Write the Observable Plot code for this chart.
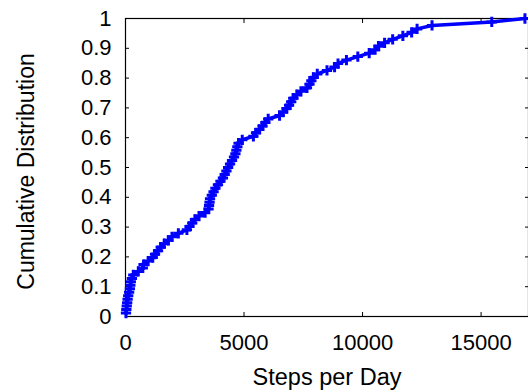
<!DOCTYPE html>
<html>
<head>
<meta charset="utf-8">
<script src="https://cdn.jsdelivr.net/npm/d3@7"></script>
<script src="https://cdn.jsdelivr.net/npm/@observablehq/plot@0.6"></script>
<style>
  html, body { margin: 0; padding: 0; background: #fff; }
  #chart { width: 528px; height: 392px; }
</style>
</head>
<body>
<div id="chart"></div>
<script>
// Steps per day (sorted) and the cumulative fraction at each point
const steps = [
  20, 35, 52, 70, 89, 115, 152, 185, 205, 224,
  270, 328, 540, 730, 762, 955, 1150, 1245, 1373, 1485,
  1633, 1810, 1960, 2230, 2590, 2700, 2815, 2930, 3100, 3360,
  3503, 3524, 3545, 3566, 3640, 3715, 3793, 3900, 4005, 4110,
  4185, 4257, 4329, 4410, 4494, 4577, 4636, 4677, 4718, 4770,
  4925, 5395, 5507, 5647, 5780, 5900, 6020, 6500, 6650, 6796,
  6900, 6990, 7075, 7230, 7400, 7655, 7760, 7840, 7925, 8090,
  8500, 8820, 8965, 9320, 9800, 10280, 10530, 10670, 10930, 11270,
  11700, 12070, 12300, 12930, 15450, 16850
];
const cdf = [
  0.0116, 0.0233, 0.0349, 0.0465, 0.0581, 0.0698, 0.0814, 0.0930, 0.1047, 0.1163,
  0.1279, 0.1395, 0.1512, 0.1628, 0.1744, 0.1860, 0.1977, 0.2093, 0.2209, 0.2326,
  0.2442, 0.2558, 0.2674, 0.2791, 0.2907, 0.3023, 0.3140, 0.3256, 0.3372, 0.3488,
  0.3605, 0.3721, 0.3837, 0.3953, 0.4070, 0.4186, 0.4302, 0.4419, 0.4535, 0.4651,
  0.4767, 0.4884, 0.5000, 0.5116, 0.5233, 0.5349, 0.5465, 0.5581, 0.5698, 0.5814,
  0.5930, 0.6047, 0.6163, 0.6279, 0.6395, 0.6512, 0.6628, 0.6744, 0.6860, 0.6977,
  0.7093, 0.7209, 0.7326, 0.7442, 0.7558, 0.7674, 0.7791, 0.7907, 0.8023, 0.8140,
  0.8256, 0.8372, 0.8488, 0.8605, 0.8721, 0.8837, 0.8953, 0.9070, 0.9186, 0.9302,
  0.9419, 0.9535, 0.9651, 0.9767, 0.9884, 1.0000
];
const xTicks = [0, 5000, 10000, 15000];
const xTickLabels = ["0", "5000", "10000", "15000"];
const yTicks = [0, 0.1, 0.2, 0.3, 0.4, 0.5, 0.6, 0.7, 0.8, 0.9, 1];
const yTickLabels = ["0", "0.1", "0.2", "0.3", "0.4", "0.5", "0.6", "0.7", "0.8", "0.9", "1"];
const xLabel = "Steps per Day";
const yLabel = "Cumulative Distribution";

const data = steps.map((s, i) => ({steps: s, cdf: cdf[i]}));
const blue = "#0000ff";
const tickFont = 22;

const chart = Plot.plot({
  width: 528,
  height: 392,
  marginLeft: 125,
  marginRight: 0,
  marginTop: 18,
  marginBottom: 76,
  style: {fontFamily: "'Liberation Sans', Arial, Helvetica, sans-serif", color: "#000", background: "#fff", overflow: "visible"},
  x: {domain: [0, 17000]},
  y: {domain: [0, 1]},
  marks: [
    // inward ticks on all four sides
    Plot.axisX({anchor: "bottom", ticks: xTicks, tickSize: -4, text: null, label: null}),
    Plot.axisX({anchor: "top", ticks: xTicks, tickSize: -4, text: null, label: null}),
    Plot.axisY({anchor: "left", ticks: yTicks, tickSize: -4, text: null, label: null}),
    Plot.axisY({anchor: "right", ticks: yTicks, tickSize: -4, text: null, label: null}),
    // tick labels
    Plot.axisX({anchor: "bottom", ticks: xTicks, tickSize: 0, tickPadding: 18, fontSize: tickFont,
      tickFormat: (d) => xTickLabels[xTicks.indexOf(d)], label: null}),
    Plot.axisY({anchor: "left", ticks: yTicks, tickSize: 0, tickPadding: 14, fontSize: tickFont,
      tickFormat: (d) => yTickLabels[yTicks.indexOf(d)], label: null}),
    Plot.frame({stroke: "#000", strokeWidth: 1.2}),
    Plot.line(data, {x: "steps", y: "cdf", stroke: blue, strokeWidth: 3.5, clip: false}),
    Plot.dot(data, {x: "steps", y: "cdf", symbol: "plus", stroke: blue, strokeWidth: 3, r: 3.4}),
    // axis titles
    Plot.text([xLabel], {frameAnchor: "bottom", textAnchor: "middle", lineAnchor: "bottom", dy: 68, fontSize: 23.5, fill: "#000"}),
    Plot.text([yLabel], {frameAnchor: "left", textAnchor: "middle", lineAnchor: "middle", rotate: -90, dx: -99, dy: 4, fontSize: 23, fill: "#000"})
  ]
});
document.getElementById("chart").appendChild(chart);
</script>
</body>
</html>
